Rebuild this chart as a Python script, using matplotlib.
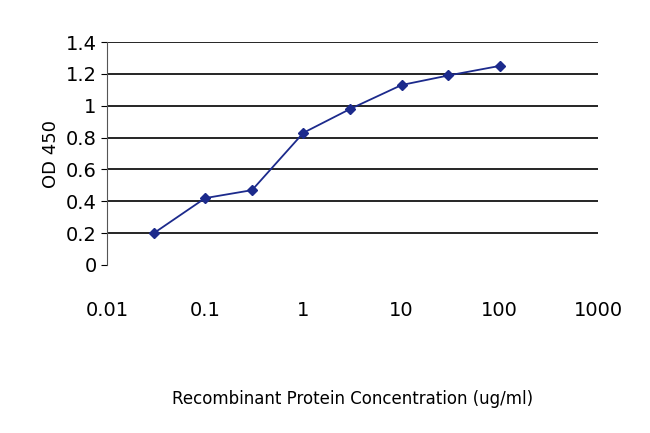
import matplotlib
matplotlib.use('Agg')
import matplotlib.pyplot as plt

# concentration vs OD450
conc = [0.03, 0.1, 0.3, 1, 3, 10, 30, 100]
od = [0.20, 0.42, 0.47, 0.83, 0.98, 1.13, 1.19, 1.25]
yticks = [0, 0.2, 0.4, 0.6, 0.8, 1, 1.2, 1.4]
ylabels = ['0', '0.2', '0.4', '0.6', '0.8', '1', '1.2', '1.4']
xticks = [0.01, 0.1, 1, 10, 100, 1000]
xlabels = ['0.01', '0.1', '1', '10', '100', '1000']

fig = plt.figure(figsize=(6.5, 4.33), dpi=100)
ax = fig.add_axes([107/650, 1 - 265/433, (598-107)/650, (265-42)/433])
ax.set_xscale('log')
ax.set_xlim(0.01, 1000)
ax.set_ylim(0, 1.4)
for y in yticks[1:]:
    ax.axhline(y, color='black', lw=1.2, zorder=1)
ax.plot(conc, od, color='#1c2a8c', marker='D', markersize=5, lw=1.3, zorder=3)
ax.set_yticks(yticks)
ax.set_yticklabels(ylabels, fontsize=14)
ax.set_xticks(xticks)
ax.set_xticklabels(xlabels, fontsize=14)
ax.minorticks_off()
ax.tick_params(axis='x', length=0, pad=26)
ax.tick_params(axis='y', length=4)
for s in ['top', 'right', 'bottom']:
    ax.spines[s].set_visible(False)
ax.spines['left'].set_color('#555555')
ax.set_ylabel('OD 450', fontsize=13)
ax.set_xlabel('Recombinant Protein Concentration (ug/ml)', fontsize=12, labelpad=50)
fig.savefig('out.png', dpi=100)
